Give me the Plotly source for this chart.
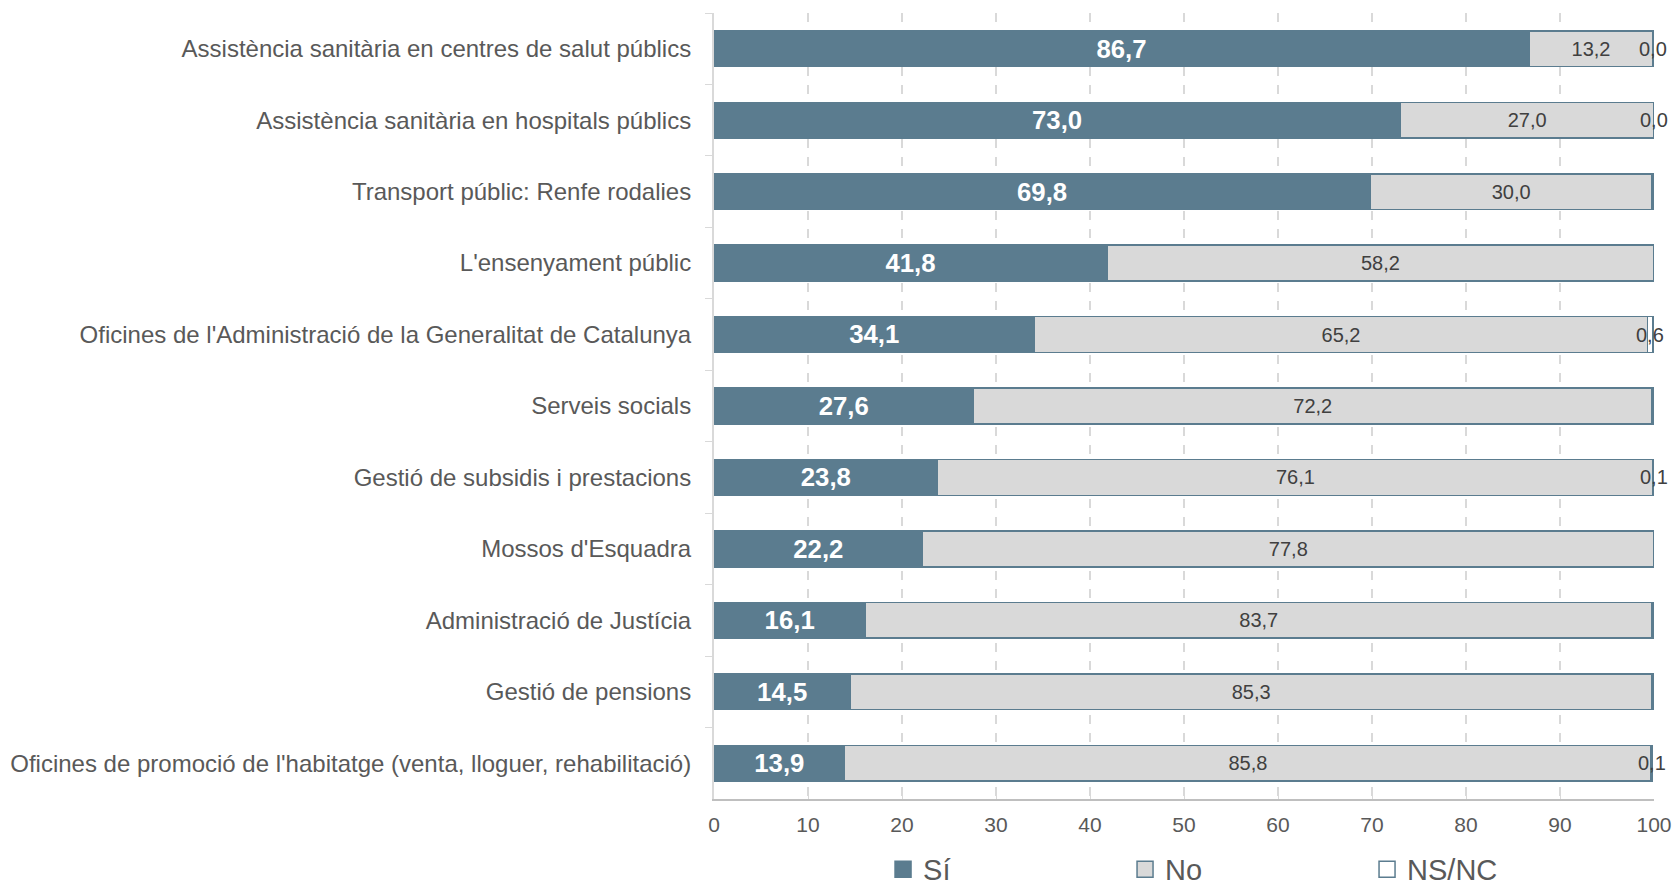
import plotly.graph_objects as go

categories = [
    "Assistència sanitària en centres de salut públics",
    "Assistència sanitària en hospitals públics",
    "Transport públic: Renfe rodalies",
    "L'ensenyament públic",
    "Oficines de l'Administració de la Generalitat de Catalunya",
    "Serveis socials",
    "Gestió de subsidis i prestacions",
    "Mossos d'Esquadra",
    "Administració de Justícia",
    "Gestió de pensions",
    "Oficines de promoció de l'habitatge (venta, lloguer, rehabilitació)",
]
si = [86.7, 73.0, 69.8, 41.8, 34.1, 27.6, 23.8, 22.2, 16.1, 14.5, 13.9]
no = [13.2, 27.0, 30.0, 58.2, 65.2, 72.2, 76.1, 77.8, 83.7, 85.3, 85.8]
nsnc = [0.0, 0.0, 0.2, 0.0, 0.6, 0.2, 0.1, 0.0, 0.2, 0.2, 0.1]
nsnc_labels = ["0,0", "0,0", "", "", "0,6", "", "0,1", "", "", "", "0,1"]
x_ticks = [0, 10, 20, 30, 40, 50, 60, 70, 80, 90, 100]
series_names = ["Sí", "No", "NS/NC"]

BLUE = "#5b7c8f"
GREY = "#d9d9d9"
FONT = "Arial, Liberation Sans, sans-serif"
fills = [BLUE, GREY, "white"]

def fmt(v):
    return f"{v:.1f}".replace(".", ",")

fig = go.Figure()
fig.add_trace(go.Bar(
    y=categories, x=si, name="Sí", orientation="h", showlegend=False,
    marker=dict(color=BLUE, line=dict(color=BLUE, width=1.5)),
    text=[fmt(v) for v in si], textposition="inside", insidetextanchor="middle",
    textfont=dict(color="white", size=26, family=FONT, weight="bold"),
    cliponaxis=False,
))
fig.add_trace(go.Bar(
    y=categories, x=no, name="No", orientation="h", showlegend=False,
    marker=dict(color=GREY, line=dict(color=BLUE, width=1.5)),
    text=[fmt(v) for v in no], textposition="inside", insidetextanchor="middle",
    textfont=dict(color="#404040", size=20, family=FONT),
    cliponaxis=False,
))
fig.add_trace(go.Bar(
    y=categories, x=nsnc, name="NS/NC", orientation="h", showlegend=False,
    marker=dict(color="white", line=dict(color=BLUE, width=1.5)),
    textposition="none", cliponaxis=False,
))

# legend-only entries with larger square symbols
for name, fc in zip(series_names, fills):
    fig.add_trace(go.Scatter(
        x=[None], y=[None], mode="markers", name=name,
        marker=dict(symbol="square", size=17, color=fc, line=dict(color=BLUE, width=1.5)),
    ))

for c, s, n, ns, lab in zip(categories, si, no, nsnc, nsnc_labels):
    if lab:
        fig.add_annotation(x=s + n + ns / 2, y=c, text=lab, showarrow=False,
                           xanchor="center", yanchor="middle",
                           font=dict(color="#404040", size=20, family=FONT))

fig.update_layout(
    barmode="stack", bargap=0.5,
    width=1674, height=884,
    margin=dict(l=714, r=20, t=13, b=85, autoexpand=False),
    plot_bgcolor="white", paper_bgcolor="white",
    font=dict(family=FONT, color="#595959"),
    legend=dict(orientation="h", traceorder="normal",
                x=0.566, xanchor="center", y=-0.057, yanchor="top",
                font=dict(size=29, color="#595959", family=FONT),
                entrywidth=197, entrywidthmode="pixels",
                itemsizing="trace"),
    showlegend=True,
)
fig.update_xaxes(
    range=[0, 100], tickvals=x_ticks, ticktext=[str(v) for v in x_ticks],
    showgrid=True, gridcolor="#d9d9d9", griddash="dash", gridwidth=1.5,
    showline=True, linecolor="#bfbfbf", linewidth=2,
    ticks="inside", ticklen=6, tickcolor="#d9d9d9",
    tickfont=dict(size=21, color="#595959", family=FONT), zeroline=False,
    automargin=False, ticklabeloverflow="allow", ticklabelstandoff=6,
)
fig.update_yaxes(
    autorange="reversed", categoryorder="array", categoryarray=categories,
    showline=True, linecolor="#d9d9d9", linewidth=2,
    ticks="outside", ticklen=7, tickcolor="#d9d9d9", tickson="boundaries",
    tickfont=dict(size=24, color="#595959", family=FONT), ticklabelstandoff=16,
    automargin=False,
)
fig.write_html(
    "out.html",
    config={"displayModeBar": False},
    post_script="document.body.style.margin='0';document.body.style.overflow='hidden';",
)
